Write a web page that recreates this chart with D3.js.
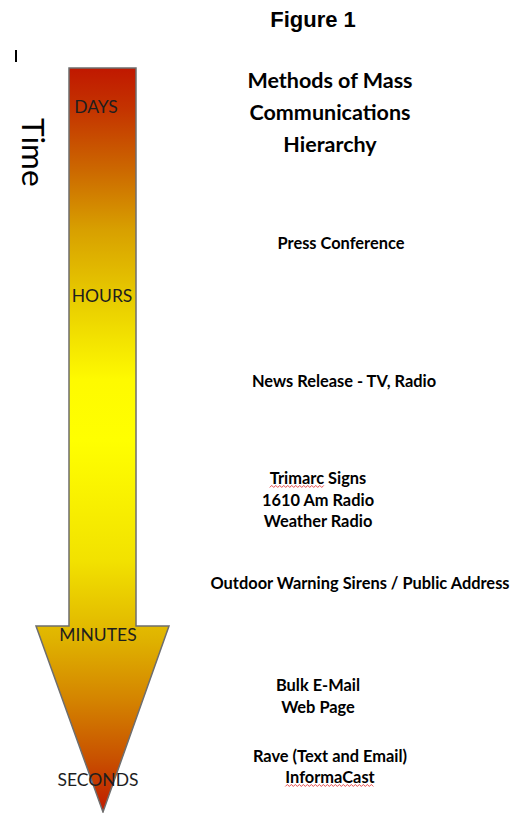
<!DOCTYPE html>
<html>
<head>
<meta charset="utf-8">
<script src="https://d3js.org/d3.v7.min.js"></script>
<style>
  body { margin: 0; background: #fff; }
  svg { display: block; }
</style>
</head>
<body>
<div id="chart"></div>
<script>
// Time scale labels along the arrow (position as fraction of arrow length, top to tip)
var timeLabels = ["DAYS", "HOURS", "MINUTES", "SECONDS"];
var timePos = [0.052, 0.306, 0.762, 0.956];
var timeX = [96, 102, 98, 98];

// Communication methods (each entry may have several lines) and where they sit along the arrow
var methodLines = [
  ["Press Conference"],
  ["News Release - TV, Radio"],
  ["Trimarc Signs", "1610 Am Radio", "Weather Radio"],
  ["Outdoor Warning Sirens / Public Address"],
  ["Bulk E-Mail", "Web Page"],
  ["Rave (Text and Email)", "InformaCast"]
];
var methodPos = [0.234, 0.420, 0.551, 0.691, 0.829, 0.924];
var methodX = [341, 344, 318, 360, 318, 330];
// words flagged by the spell checker (red squiggle)
var flagged = ["Trimarc", "InformaCast"];

var titleLines = ["Methods of Mass", "Communications", "Hierarchy"];

var width = 518, height = 813;

var svg = d3.select("#chart").append("svg")
    .attr("width", width)
    .attr("height", height);

//Arrow scale: fraction of length -> pixels
var y = d3.scaleLinear().domain([0, 1]).range([68, 812]);

//Gradient (red -> yellow -> red)
var stops = [
  [0, "#c01800"], [0.056, "#c43400"], [0.137, "#cc6800"], [0.218, "#d8a000"],
  [0.312, "#e8cc00"], [0.419, "#fefa00"], [0.5, "#ffff00"], [0.661, "#f2e200"],
  [0.769, "#dfb200"], [0.849, "#d48400"], [0.93, "#c85000"], [1, "#c01a00"]
];
var grad = svg.append("defs").append("linearGradient")
    .attr("id", "fire")
    .attr("gradientUnits", "userSpaceOnUse")
    .attr("x1", 0).attr("x2", 0)
    .attr("y1", y(0)).attr("y2", y(1));
grad.selectAll("stop").data(stops).enter().append("stop")
    .attr("offset", function(d){ return d[0]; })
    .attr("stop-color", function(d){ return d[1]; });

//Arrow shape
var shaftL = 69, shaftR = 136, headL = 36, headR = 169, tipX = 103;
var shoulder = y(0.75);
var arrowPts = [
  [shaftL, y(0)], [shaftR, y(0)], [shaftR, shoulder], [headR, shoulder],
  [tipX, y(1)], [headL, shoulder], [shaftL, shoulder]
];
svg.append("path")
    .attr("d", d3.line()(arrowPts) + "Z")
    .attr("fill", "url(#fire)")
    .attr("stroke", "#6e6e6e")
    .attr("stroke-width", 1.5)
    .attr("stroke-linejoin", "miter");

//Time labels on the arrow
svg.selectAll(".tl").data(timeLabels).enter().append("text")
    .attr("class", "tl")
    .attr("x", function(d, i){ return timeX[i]; })
    .attr("y", function(d, i){ return y(timePos[i]); })
    .attr("text-anchor", "middle")
    .attr("dominant-baseline", "central")
    .style("font-family", "Lato, 'Open Sans', sans-serif")
    .style("font-size", "17.5px")
    .style("fill", "#1e1e1e")
    .text(function(d){ return d; });

//"Time" axis label
svg.append("text")
    .attr("transform", "translate(22,118) rotate(90)")
    .style("font-family", "Lato, 'Open Sans', sans-serif")
    .style("font-size", "31.5px")
    .style("fill", "#000")
    .text("Time");

//small cursor mark
svg.append("line")
    .attr("x1", 16).attr("x2", 16)
    .attr("y1", 50).attr("y2", 62)
    .attr("stroke", "#000")
    .attr("stroke-width", 2);

//Figure title
svg.append("text")
    .attr("x", 313).attr("y", 27)
    .attr("text-anchor", "middle")
    .style("font-family", "'Liberation Sans', Arial, sans-serif")
    .style("font-weight", "bold")
    .style("font-size", "22px")
    .text("Figure 1");

svg.selectAll(".ttl").data(titleLines).enter().append("text")
    .attr("class", "ttl")
    .attr("x", 330)
    .attr("y", function(d, i){ return 88 + i * 32; })
    .attr("text-anchor", "middle")
    .style("font-family", "Lato, 'Open Sans', sans-serif")
    .style("font-weight", "bold")
    .style("font-size", "21.5px")
    .text(function(d){ return d; });

//Methods
var lineH = 21.5;
var fs = "16.4px";
var groups = svg.selectAll(".method").data(methodLines).enter().append("g")
    .attr("class", "method")
    .attr("transform", function(d, i){ return "translate(" + methodX[i] + "," + y(methodPos[i]) + ")"; });

groups.each(function(lines){
  var g = d3.select(this);
  lines.forEach(function(line, j){
    var t = g.append("text")
        .attr("x", 0)
        .attr("y", j * lineH)
        .attr("text-anchor", "middle")
        .attr("dominant-baseline", "central")
        .style("font-family", "Lato, 'Open Sans', sans-serif")
        .style("font-weight", "bold")
        .style("font-size", fs)
        .text(line);
    var word = flagged.filter(function(w){ return line.indexOf(w) === 0; })[0];
    if (word) {
      var bb = t.node().getBBox();
      //measure the flagged word
      var tmp = g.append("text")
          .style("font-family", "Lato, 'Open Sans', sans-serif")
          .style("font-weight", "bold")
          .style("font-size", fs)
          .text(word);
      var w = tmp.node().getComputedTextLength();
      tmp.remove();
      var x0 = bb.x, yy = j * lineH + 8.5;
      var pts = d3.range(0, Math.floor(w / 2) + 1).map(function(k){
        return [x0 + k * 2, yy + (k % 2 ? -1 : 1)];
      });
      g.append("path")
          .attr("d", d3.line()(pts))
          .attr("fill", "none")
          .attr("stroke", "#e02020")
          .attr("stroke-width", 0.8);
    }
  });
});
</script>
</body>
</html>
